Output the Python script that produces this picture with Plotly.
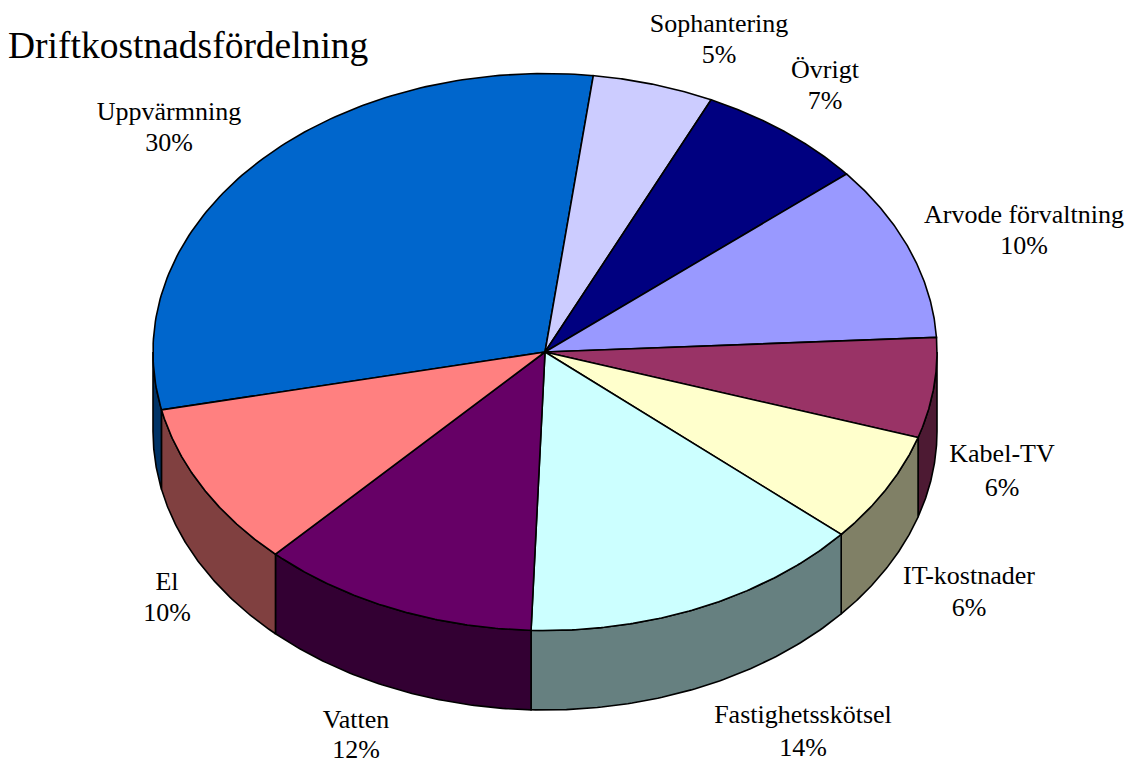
import numpy as np
import plotly.graph_objects as go

categories = ["Uppvärmning", "Sophantering", "Övrigt", "Arvode förvaltning", "Kabel-TV",
              "IT-kostnader", "Fastighetsskötsel", "Vatten", "El"]
values = [30.3, 5.0, 7.0, 10.2, 5.8, 6.4, 14.2, 11.5, 9.6]
top_colors = ["#0066CC", "#CCCCFF", "#000080", "#9999FF", "#993366",
              "#FFFFCC", "#CCFFFF", "#660066", "#FF8080"]
side_colors = ["#003366", "#666680", "#000040", "#4D4D80", "#4D1A33",
               "#808066", "#668080", "#330033", "#804040"]
label_x = [169, 719, 825, 1024, 1002, 969, 803, 356, 167]
name_y = [113, 25, 71, 216, 455, 577, 716, 721, 583]
pct_y = [144, 56, 102, 247, 489, 609, 749, 751, 614]

CX, CY, RX, RY, DEPTH = 545, 352, 392, 278.5, 79.5
START = 258.0

def pt(t, dy=0.0):
    r = np.radians(t)
    return CX + RX * np.sin(r), CY - RY * np.cos(r) + dy

fig = go.Figure()
shares = np.array(values) / sum(values) * 360
edges = START + np.concatenate([[0], np.cumsum(shares)])

# visible wall: the near half of the rim, angles 90..270 (and again one turn later)
for i in range(len(values)):
    for lo, hi in ((90, 270), (450, 630)):
        a, b = max(edges[i], lo), min(edges[i + 1], hi)
        if b > a:
            t = np.linspace(a, b, 80)
            x1, y1 = pt(t)
            x2, y2 = pt(t[::-1], DEPTH)
            fig.add_trace(go.Scatter(x=np.r_[x1, x2, x1[0]], y=np.r_[y1, y2, y1[0]], mode="lines",
                                     fill="toself", fillcolor=side_colors[i],
                                     line=dict(color="black", width=1.6), hoverinfo="skip"))

for i in range(len(values)):
    t = np.linspace(edges[i], edges[i + 1], 120)
    x, y = pt(t)
    fig.add_trace(go.Scatter(x=np.r_[CX, x, CX], y=np.r_[CY, y, CY], mode="lines",
                             fill="toself", fillcolor=top_colors[i],
                             line=dict(color="black", width=1.6), name=categories[i], hoverinfo="skip"))

font = dict(family="Liberation Serif", size=26, color="black")
fig.add_trace(go.Scatter(x=label_x, y=name_y, mode="text", text=categories, cliponaxis=False,
                         textposition="middle center", textfont=font, hoverinfo="skip"))
fig.add_trace(go.Scatter(x=label_x, y=pct_y, mode="text", text=[f"{round(v)}%" for v in values], cliponaxis=False,
                         textposition="middle center", textfont=font, hoverinfo="skip"))

fig.update_layout(
    width=1127, height=762, autosize=False, showlegend=False,
    margin=dict(l=0, r=0, t=0, b=0), paper_bgcolor="white", plot_bgcolor="white",
    title=dict(text="Driftkostnadsfördelning", x=8 / 1127, y=1 - 45 / 762, xanchor="left", yanchor="middle",
               font=dict(family="Liberation Serif", size=37.5, color="black")),
    xaxis=dict(range=[0, 1127], visible=False, fixedrange=True),
    yaxis=dict(range=[762, 0], visible=False, fixedrange=True),
)
fig.write_html("out.html", config=dict(displayModeBar=False), post_script="document.body.style.margin='0';")
